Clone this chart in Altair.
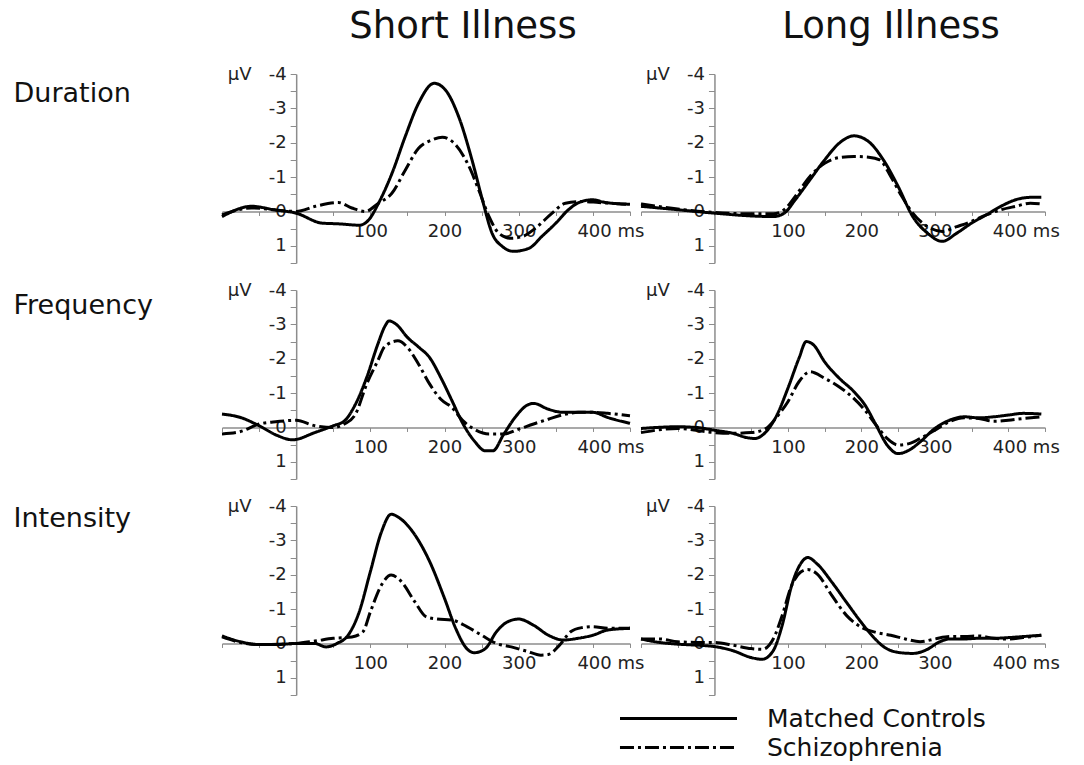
import altair as alt
import pandas as pd

CONDITIONS = ["Duration", "Frequency", "Intensity"]
ILLNESS = ["Short Illness", "Long Illness"]
GROUPS = ["Matched Controls", "Schizophrenia"]

# ---- Duration, short illness
T_DUR_SHORT_MC = [-100, -60, -30, 0, 35, 57, 85, 98, 111, 129, 147, 165, 186, 201, 219, 237, 251, 264, 278, 293, 314, 331, 350, 367, 381, 399, 417, 450]
V_DUR_SHORT_MC = [0.15, -0.15, -0.05, 0.05, 0.34, 0.36, 0.4, 0.24, -0.24, -1.1, -2.18, -3.15, -3.73, -3.54, -2.76, -1.5, -0.34, 0.63, 1.02, 1.16, 1.07, 0.73, 0.34, -0.05, -0.26, -0.34, -0.26, -0.21]
T_DUR_SHORT_SZ = [-100, -60, 0, 26, 57, 75, 93, 111, 129, 147, 165, 183, 197, 215, 233, 246, 260, 273, 289, 305, 323, 345, 363, 385, 408, 450]
V_DUR_SHORT_SZ = [0.1, -0.1, 0, -0.15, -0.26, -0.1, 0, -0.24, -0.53, -1.2, -1.84, -2.08, -2.16, -1.94, -1.31, -0.63, 0.15, 0.63, 0.78, 0.73, 0.48, 0.05, -0.24, -0.29, -0.26, -0.2]
# ---- Duration, long illness
T_DUR_LONG_MC = [-100, -50, 0, 50, 80, 95, 110, 130, 150, 170, 190, 210, 230, 250, 270, 290, 310, 330, 350, 370, 390, 410, 430, 445]
V_DUR_LONG_MC = [-0.15, -0.05, 0.05, 0.13, 0.15, 0.05, -0.34, -0.92, -1.5, -1.99, -2.2, -2.03, -1.5, -0.73, 0.15, 0.63, 0.87, 0.63, 0.34, 0.1, -0.15, -0.34, -0.41, -0.41]
T_DUR_LONG_SZ = [-100, -50, 0, 50, 80, 95, 110, 130, 150, 170, 190, 210, 225, 240, 255, 270, 290, 310, 330, 350, 370, 390, 410, 430, 445]
V_DUR_LONG_SZ = [-0.22, -0.07, 0.03, 0.07, 0.07, -0.05, -0.44, -1.02, -1.4, -1.57, -1.6, -1.58, -1.5, -1.02, -0.44, 0.05, 0.44, 0.58, 0.44, 0.29, 0.1, -0.05, -0.15, -0.24, -0.22]
# ---- Frequency, short illness
T_FRQ_SHORT_MC = [-100, -75, -50, -25, -5, 25, 50, 65, 80, 95, 110, 120, 125, 135, 150, 165, 180, 195, 210, 225, 240, 255, 265, 280, 295, 310, 320, 340, 360, 380, 400, 420, 450]
V_FRQ_SHORT_MC = [-0.39, -0.29, -0.05, 0.24, 0.36, 0.15, -0.05, -0.19, -0.68, -1.45, -2.42, -2.96, -3.1, -3.0, -2.62, -2.34, -2.03, -1.45, -0.78, -0.1, 0.39, 0.68, 0.68, 0.19, -0.29, -0.63, -0.7, -0.53, -0.44, -0.44, -0.44, -0.29, -0.12]
T_FRQ_SHORT_SZ = [-100, -75, -50, -25, 0, 25, 50, 65, 80, 95, 110, 120, 137, 150, 165, 180, 195, 210, 225, 240, 260, 280, 300, 320, 340, 360, 380, 400, 420, 450]
V_FRQ_SHORT_SZ = [0.19, 0.12, -0.1, -0.17, -0.21, -0.05, 0, -0.1, -0.39, -1.26, -1.94, -2.37, -2.52, -2.33, -1.84, -1.26, -0.82, -0.58, -0.19, 0.05, 0.19, 0.19, 0.05, -0.1, -0.24, -0.37, -0.44, -0.44, -0.41, -0.34]
# ---- Frequency, long illness
T_FRQ_LONG_MC = [-100, -50, -25, 0, 25, 45, 55, 70, 85, 100, 115, 125, 135, 150, 170, 190, 205, 220, 235, 250, 265, 280, 300, 320, 340, 360, 380, 400, 420, 445]
V_FRQ_LONG_MC = [0.03, -0.02, 0, 0.08, 0.17, 0.3, 0.32, 0.13, -0.36, -1.14, -2.01, -2.5, -2.4, -1.91, -1.43, -1.04, -0.65, -0.07, 0.51, 0.76, 0.66, 0.42, 0.03, -0.21, -0.31, -0.28, -0.31, -0.36, -0.41, -0.39]
T_FRQ_LONG_SZ = [-100, -50, 0, 25, 50, 70, 85, 100, 115, 130, 150, 170, 190, 205, 220, 235, 250, 265, 280, 300, 320, 340, 360, 380, 400, 420, 445]
V_FRQ_LONG_SZ = [0.15, 0.03, 0.15, 0.17, 0.15, 0.03, -0.31, -0.75, -1.33, -1.62, -1.43, -1.18, -0.84, -0.5, -0.07, 0.32, 0.51, 0.47, 0.32, 0.08, -0.17, -0.28, -0.26, -0.18, -0.21, -0.26, -0.31]
# ---- Intensity, short illness
T_INT_SHORT_MC = [-100, -75, -50, -25, 0, 25, 40, 55, 70, 85, 100, 115, 128, 140, 160, 180, 200, 215, 230, 240, 255, 270, 285, 300, 320, 340, 360, 380, 400, 420, 450]
V_INT_SHORT_MC = [-0.22, -0.05, 0.03, 0.03, 0, 0, 0.1, 0, -0.24, -0.92, -2.09, -3.25, -3.76, -3.64, -3.16, -2.38, -1.31, -0.44, 0.15, 0.27, 0.15, -0.34, -0.63, -0.71, -0.53, -0.24, -0.1, -0.15, -0.24, -0.39, -0.44]
T_INT_SHORT_SZ = [-100, -75, -50, 0, 25, 50, 75, 90, 100, 115, 128, 140, 160, 175, 190, 210, 230, 250, 270, 290, 310, 330, 340, 355, 370, 385, 400, 420, 450]
V_INT_SHORT_SZ = [-0.19, -0.03, 0.03, 0, -0.07, -0.15, -0.19, -0.34, -0.92, -1.7, -1.99, -1.84, -1.21, -0.78, -0.71, -0.68, -0.49, -0.24, 0, 0.1, 0.22, 0.34, 0.32, 0.05, -0.34, -0.46, -0.49, -0.44, -0.44]
# ---- Intensity, long illness
T_INT_LONG_MC = [-100, -75, -50, -25, 0, 25, 50, 65, 80, 92, 105, 117, 127, 140, 160, 180, 200, 215, 230, 250, 270, 290, 305, 320, 340, 360, 380, 400, 420, 445]
V_INT_LONG_MC = [-0.13, -0.03, 0.02, 0.05, 0.09, 0.21, 0.41, 0.46, 0.21, -0.51, -1.68, -2.31, -2.5, -2.31, -1.78, -1.19, -0.61, -0.22, 0.09, 0.26, 0.29, 0.17, -0.03, -0.13, -0.13, -0.15, -0.15, -0.17, -0.2, -0.24]
T_INT_LONG_SZ = [-100, -75, -50, -25, 0, 25, 50, 65, 80, 92, 105, 117, 127, 140, 160, 180, 200, 220, 240, 260, 280, 300, 320, 340, 360, 380, 400, 420, 445]
V_INT_LONG_SZ = [-0.13, -0.13, -0.05, -0.03, -0.03, 0.05, 0.15, 0.17, -0.13, -0.8, -1.68, -2.07, -2.15, -2.02, -1.39, -0.81, -0.47, -0.32, -0.24, -0.13, -0.05, -0.13, -0.2, -0.2, -0.22, -0.15, -0.13, -0.17, -0.24]

CURVES = {
    ("Duration", "Short Illness", "Matched Controls"): (T_DUR_SHORT_MC, V_DUR_SHORT_MC),
    ("Duration", "Short Illness", "Schizophrenia"): (T_DUR_SHORT_SZ, V_DUR_SHORT_SZ),
    ("Duration", "Long Illness", "Matched Controls"): (T_DUR_LONG_MC, V_DUR_LONG_MC),
    ("Duration", "Long Illness", "Schizophrenia"): (T_DUR_LONG_SZ, V_DUR_LONG_SZ),
    ("Frequency", "Short Illness", "Matched Controls"): (T_FRQ_SHORT_MC, V_FRQ_SHORT_MC),
    ("Frequency", "Short Illness", "Schizophrenia"): (T_FRQ_SHORT_SZ, V_FRQ_SHORT_SZ),
    ("Frequency", "Long Illness", "Matched Controls"): (T_FRQ_LONG_MC, V_FRQ_LONG_MC),
    ("Frequency", "Long Illness", "Schizophrenia"): (T_FRQ_LONG_SZ, V_FRQ_LONG_SZ),
    ("Intensity", "Short Illness", "Matched Controls"): (T_INT_SHORT_MC, V_INT_SHORT_MC),
    ("Intensity", "Short Illness", "Schizophrenia"): (T_INT_SHORT_SZ, V_INT_SHORT_SZ),
    ("Intensity", "Long Illness", "Matched Controls"): (T_INT_LONG_MC, V_INT_LONG_MC),
    ("Intensity", "Long Illness", "Schizophrenia"): (T_INT_LONG_SZ, V_INT_LONG_SZ),
}

rows = []
for (cond, ill, grp), (ts, vs) in CURVES.items():
    for t, v in zip(ts, vs):
        rows.append({"condition": cond, "illness": ill, "group": grp, "t": t, "v": v})
df = pd.DataFrame(rows)

FONT = "DejaVu Sans"
Y_VALUES = [-4, -3.5, -3, -2.5, -2, -1.5, -1, -0.5, 0, 0.5, 1, 1.5]
X_VALUES = [-100, -50, 0, 50, 100, 150, 200, 250, 300, 350, 400, 450]
H = 189
ROW_TITLE_Y = [27, 23, 20]
TITLE_DX = [37, 48]

# long horizontal stroke symbol (path spans 10 symbol-radii) so rows stay compact
legend = alt.Legend(
    orient="none", legendX=443, legendY=631, title=None, padding=0,
    symbolType="M-5,0H5", symbolSize=548, symbolStrokeWidth=3,
    symbolStrokeColor="black", symbolFillColor="transparent",
    labelFontSize=25, labelFont=FONT,
    labelColor="#111", labelOffset=75, rowPadding=2, labelLimit=400,
)


def panel(ri, ci):
    cond = CONDITIONS[ri]
    ill = ILLNESS[ci]
    w = 408 if ci == 0 else 404
    y_off = -w * 100.0 / 550.0
    x_off = -H * 1.5 / 5.5
    sub = df[(df.condition == cond) & (df.illness == ill)]
    yaxis_kwargs = dict(
        values=Y_VALUES,
        labelExpr="datum.value == -4 ? 'µV\u00a0\u00a0\u00a0-4' : (datum.value % 1 == 0 ? toString(datum.value) : '')",
        offset=y_off, tickSize=6, labelPadding=4, grid=False,
        domainColor="#8c8c8c", tickColor="#8c8c8c", domainWidth=1.5,
        labelFontSize=18, labelFont=FONT, labelColor="#222",
        labelFlush=False, labelOverlap=False, labelBaseline="middle",
    )
    if ci == 0:
        yaxis_kwargs.update(
            title=cond, titleAngle=0, titleAlign="left", titleBaseline="alphabetic",
            titleX=13 - (222 - y_off), titleY=ROW_TITLE_Y[ri],
            titleFontSize=27, titleFont=FONT, titleFontWeight="normal", titleColor="#111",
        )
    else:
        yaxis_kwargs.update(title=None)
    xaxis = alt.Axis(
        values=X_VALUES,
        labelExpr="datum.value == 400 ? '400 ms' : ((datum.value > 0 && datum.value % 100 == 0) ? toString(datum.value) : '')",
        offset=x_off, tickSize=4, labelPadding=7, grid=False, title=None,
        domainColor="#8c8c8c", tickColor="#8c8c8c", domainWidth=1.5,
        labelFontSize=18, labelFont=FONT, labelColor="#222",
        labelFlush=False, labelOverlap=False,
        labelAlign={"condition": {"test": "datum.value == 400", "value": "left"}, "value": "center"},
        labelOffset={"condition": {"test": "datum.value == 400", "value": -16}, "value": 0},
    )
    ch = alt.Chart(sub).mark_line(strokeWidth=3, interpolate="monotone", color="black").encode(
        x=alt.X("t:Q", scale=alt.Scale(domain=[-100, 450], nice=False, zero=False), axis=xaxis),
        y=alt.Y("v:Q", scale=alt.Scale(domain=[-4, 1.5], reverse=True, nice=False, zero=False),
                axis=alt.Axis(**yaxis_kwargs)),
        strokeDash=alt.StrokeDash(
            "group:N",
            scale=alt.Scale(domain=GROUPS, range=[[1, 0], [14, 4, 3, 4]]),
            legend=legend,
        ),
    )
    props = dict(width=w, height=H)
    if ri == 0:
        props["title"] = alt.TitleParams(
            ill, fontSize=37, font=FONT, fontWeight="normal", color="#111",
            anchor="middle", frame="group", dx=TITLE_DX[ci], offset=-10, baseline="alphabetic",
        )
    return ch.properties(**props)


panels = [panel(ri, ci) for ri in range(3) for ci in range(2)]

chart = alt.concat(
    *panels, columns=2, spacing={"row": 27, "column": 11}, bounds="flush",
).properties(
    padding={"left": 13, "top": 8, "right": 5, "bottom": 5},
    background="white",
).configure_view(strokeWidth=0)

chart.save("out.html", embed_options={"renderer": "svg", "actions": False})
